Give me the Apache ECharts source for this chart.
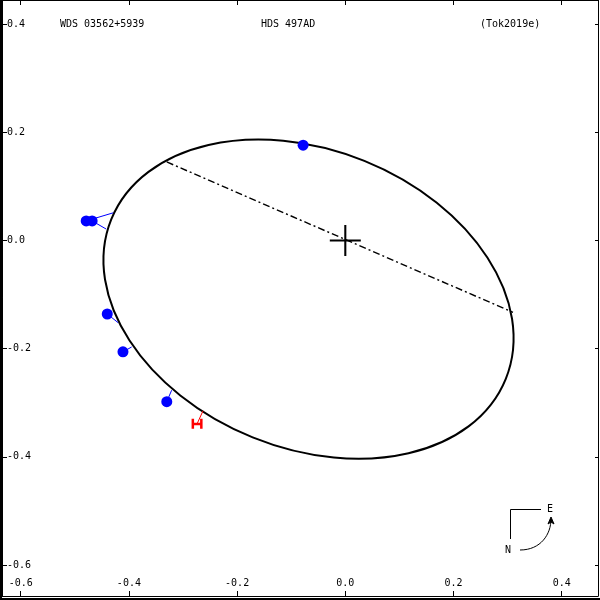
<!DOCTYPE html>
<html><head><meta charset="utf-8">
<script src="https://cdn.jsdelivr.net/npm/echarts@6/dist/echarts.min.js"></script>
<style>html,body{margin:0;padding:0;background:#fff}#c{width:600px;height:600px}</style>
</head><body><div id="c"></div>
<script>
// ---- data ----
const xTicks = [-0.6, -0.4, -0.2, 0.0, 0.2, 0.4];
const yTicks = [0.4, 0.2, 0.0, -0.2, -0.4, -0.6];
const titleTexts = ['WDS 03562+5939', 'HDS 497AD', '(Tok2019e)'];

// visual (micrometric / speckle) observations and their predicted positions on the orbit
const obsX  = [-0.078, -0.479, -0.468, -0.440, -0.411, -0.330];
const obsY  = [ 0.176,  0.036,  0.036, -0.136, -0.206, -0.298];
const predX = [-0.076, -0.429, -0.442, -0.420, -0.395, -0.321];
const predY = [ 0.178,  0.051,  0.021, -0.152, -0.197, -0.277];

// interferometric ("H") measure
const hX = [-0.274], hY = [-0.339];
const hPredX = [-0.263], hPredY = [-0.315];

// apparent orbit ellipse: centre, semi-axes, tilt of major axis (deg, ccw from +x)
const orbitCenterX = [-0.068], orbitCenterY = [-0.1085];
const orbitSemiMajor = [0.3933], orbitSemiMinor = [0.2756];
const orbitTilt = [-22.0];

// line of nodes end points
const nodesX = [-0.330, 0.310];
const nodesY = [ 0.145, -0.133];

const originX = [0.0], originY = [0.0];

// ---- chart ----
const FONT = 'DejaVu Sans Mono';
const fmt = v => (Math.abs(v) < 1e-9 ? 0 : v).toFixed(1);
const XMIN = -0.6346, XMAX = 0.4671, YMIN = -0.6573, YMAX = 0.4444;

const chart = echarts.init(document.getElementById('c'), null, {renderer: 'canvas'});

function xAxisDef(pos, labels) {
  return {
    type: 'value', position: pos, min: XMIN, max: XMAX,
    axisLine: {show: true, onZero: false, lineStyle: {color: '#000', width: 1}},
    axisTick: {show: true, inside: true, length: 5, customValues: xTicks, lineStyle: {color: '#000'}},
    axisLabel: {show: labels, inside: true, margin: 8, customValues: xTicks, formatter: fmt,
      color: '#000', fontFamily: FONT, fontSize: 10},
    splitLine: {show: false}
  };
}
function yAxisDef(pos, labels, len) {
  return {
    type: 'value', position: pos, min: YMIN, max: YMAX,
    axisLine: {show: true, onZero: false, lineStyle: {color: '#000', width: 1}},
    axisTick: {show: true, inside: true, length: len, customValues: yTicks, lineStyle: {color: '#000'}},
    axisLabel: {show: labels, inside: true, margin: 5, customValues: yTicks, formatter: fmt,
      color: '#000', fontFamily: FONT, fontSize: 10},
    splitLine: {show: false}
  };
}

const obsData = obsX.map((x, i) => [x, obsY[i]]);
const resData = obsX.map((x, i) => [x, obsY[i], predX[i], predY[i]]);
const hData = hX.map((x, i) => [x, hY[i]]);
const hResData = hX.map((x, i) => [x, hY[i], hPredX[i], hPredY[i]]);
const ellipseData = orbitCenterX.map((x, i) => [x, orbitCenterY[i], orbitSemiMajor[i], orbitSemiMinor[i], orbitTilt[i]]);
const nodesData = nodesX.map((x, i) => [x, nodesY[i]]);
const originData = originX.map((x, i) => [x, originY[i]]);

function residualSeries(data, color) {
  return {
    type: 'custom', xAxisIndex: 0, yAxisIndex: 0, data: data, silent: true,
    renderItem(params, api) {
      const a = api.coord([api.value(0), api.value(1)]);
      const b = api.coord([api.value(2), api.value(3)]);
      return {type: 'line', shape: {x1: a[0], y1: a[1], x2: b[0], y2: b[1]},
        style: {stroke: color, lineWidth: 1}};
    }
  };
}

const option = {
  animation: false,
  backgroundColor: '#fff',
  grid: {left: 2, right: 2, top: 0, bottom: 4, containLabel: false},
  xAxis: [xAxisDef('bottom', true), xAxisDef('top', false)],
  yAxis: [yAxisDef('left', true, 5), yAxisDef('right', false, 3)],
  series: [
    {
      type: 'custom', xAxisIndex: 0, yAxisIndex: 0, data: ellipseData, silent: true,
      renderItem(params, api) {
        const c = api.coord([api.value(0), api.value(1)]);
        const ra = api.size([api.value(2), 0])[0];
        const rb = api.size([0, api.value(3)])[1];
        return {type: 'ellipse', x: c[0], y: c[1], rotation: api.value(4) * Math.PI / 180,
          shape: {cx: 0, cy: 0, rx: ra, ry: rb},
          style: {fill: 'none', stroke: '#000', lineWidth: 2}};
      }
    },
    {
      type: 'line', xAxisIndex: 0, yAxisIndex: 0, data: nodesData, symbol: 'none', silent: true,
      lineStyle: {color: '#000', width: 1.4, opacity: 1, type: [7, 3, 2, 3]}
    },
    residualSeries(resData, '#0000ff'),
    residualSeries(hResData, '#ff0000'),
    {
      type: 'scatter', xAxisIndex: 0, yAxisIndex: 0, data: obsData, symbol: 'circle', symbolSize: 11,
      itemStyle: {color: '#0000ff', opacity: 1}, silent: true
    },
    {
      type: 'scatter', xAxisIndex: 0, yAxisIndex: 0, data: hData,
      symbol: 'path://M0,0h2.5v10h-2.5z M2.5,4h6v2.5h-6z M8.5,0h2.5v10h-2.5z', symbolSize: [11, 10],
      itemStyle: {color: '#ff0000', opacity: 1}, silent: true
    },
    {
      type: 'scatter', xAxisIndex: 0, yAxisIndex: 0, data: originData,
      symbol: 'path://M14,0h2v30h-2z M0,14h30v2h-30z', symbolSize: 31,
      itemStyle: {color: '#000', opacity: 1}, silent: true
    }
  ],
  graphic: [
    {type: 'text', left: 60, top: 19, style: {text: titleTexts[0], font: '10px "' + FONT + '"', fill: '#000'}},
    {type: 'text', left: 261, top: 19, style: {text: titleTexts[1], font: '10px "' + FONT + '"', fill: '#000'}},
    {type: 'text', left: 480, top: 19, style: {text: titleTexts[2], font: '10px "' + FONT + '"', fill: '#000'}},
    // outer image edge lines
    {type: 'rect', shape: {x: 0, y: 0, width: 2, height: 600}, style: {fill: '#000'}},
    {type: 'rect', shape: {x: 0, y: 598, width: 600, height: 2}, style: {fill: '#000'}},
    // compass
    {type: 'polyline', shape: {points: [[541, 509.5], [510.5, 509.5], [510.5, 539]]}, style: {stroke: '#000', fill: 'none', lineWidth: 1}},
    {type: 'text', x: 550, y: 509, style: {text: 'E', font: '10px "' + FONT + '"', fill: '#000', align: 'center', verticalAlign: 'middle'}},
    {type: 'text', x: 508, y: 550, style: {text: 'N', font: '10px "' + FONT + '"', fill: '#000', align: 'center', verticalAlign: 'middle'}},
    {type: 'bezierCurve', shape: {x1: 520, y1: 550, cpx1: 541, cpy1: 550, cpx2: 551, cpy2: 534, x2: 551, y2: 519}, style: {stroke: '#000', fill: 'none', lineWidth: 1}},
    {type: 'polygon', shape: {points: [[551, 517], [548, 524], [551, 522], [554, 524]]}, style: {fill: '#000', stroke: '#000', lineWidth: 1}}
  ]
};
chart.setOption(option);
</script>
</body></html>
